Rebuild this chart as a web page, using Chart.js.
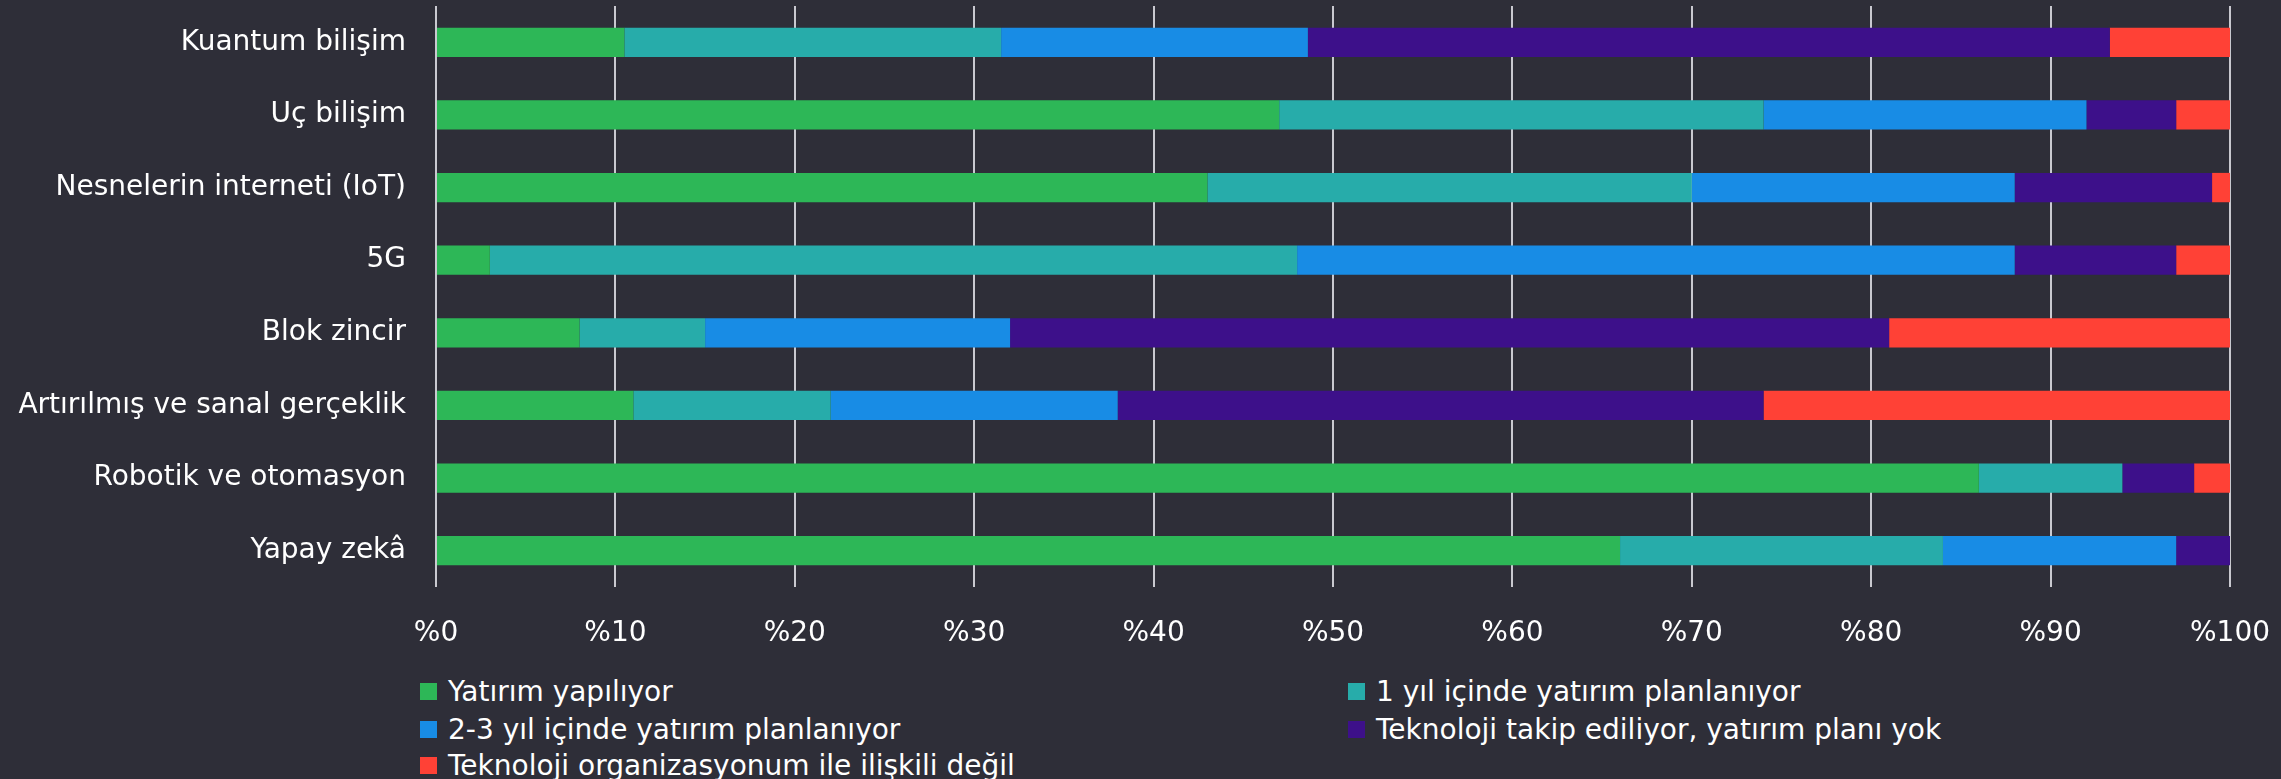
<!DOCTYPE html>
<html lang="tr">
<head>
<meta charset="utf-8">
<script src="https://cdn.jsdelivr.net/npm/chart.js@4.4.1/dist/chart.umd.min.js"></script>
<style>
  html, body { margin: 0; padding: 0; background: #2e2e38; }
  #wrap { position: relative; width: 2281px; height: 779px; overflow: hidden; background: #2e2e38; }
  #c { position: absolute; left: 0; top: 0; }
  .lg { position: absolute; font-family: "DejaVu Sans", sans-serif; font-size: 28px; color: #ffffff; white-space: nowrap; line-height: 37px; height: 37px; display: flex; align-items: center; }
  .lg i { display: inline-block; width: 17px; height: 17px; margin-right: 11px; }
</style>
</head>
<body>
<div id="wrap">
  <canvas id="c" width="2281" height="660"></canvas>
</div>
<script>
const categories = [
  "Kuantum bilişim",
  "Uç bilişim",
  "Nesnelerin interneti (IoT)",
  "5G",
  "Blok zincir",
  "Artırılmış ve sanal gerçeklik",
  "Robotik ve otomasyon",
  "Yapay zekâ"
];
const seriesNames = [
  "Yatırım yapılıyor",
  "1 yıl içinde yatırım planlanıyor",
  "2-3 yıl içinde yatırım planlanıyor",
  "Teknoloji takip ediliyor, yatırım planı yok",
  "Teknoloji organizasyonum ile ilişkili değil"
];
const investing      = [10.5, 47, 43,  3,  8, 11, 86, 66];
const planned1Year   = [21,   27, 27, 45,  7, 11,  8, 18];
const planned2to3    = [17.1, 18, 18, 40, 17, 16,  0, 13];
const followingOnly  = [44.7,  5, 11,  9, 49, 36,  4,  3];
const notRelevant    = [6.7,   3,  1,  3, 19, 26,  2,  0];
const tickValues = [0, 10, 20, 30, 40, 50, 60, 70, 80, 90, 100];
const colors = ["#2db757", "#27acaa", "#188ce5", "#3d108a", "#ff4136"];

const seriesValues = [investing, planned1Year, planned2to3, followingOnly, notRelevant];
const FONT = "DejaVu Sans";

const datasets = seriesValues.map((vals, i) => ({
  label: seriesNames[i],
  data: vals,
  backgroundColor: colors[i],
  borderWidth: 0,
  categoryPercentage: 0.404,
  barPercentage: 1.0
}));

function noPad(s) {
  s.paddingTop = 0; s.paddingBottom = 0; s.paddingLeft = 0; s.paddingRight = 0;
}

new Chart(document.getElementById("c"), {
  type: "bar",
  data: { labels: categories, datasets },
  options: {
    indexAxis: "y",
    responsive: false,
    animation: false,
    devicePixelRatio: 1,
    layout: { autoPadding: false, padding: { top: 6, right: 51, left: 0, bottom: 0 } },
    plugins: { legend: { display: false }, tooltip: { enabled: false } },
    scales: {
      x: {
        stacked: true,
        min: 0,
        max: 100,
        afterBuildTicks: (s) => { s.ticks = tickValues.map(v => ({ value: v })); },
        ticks: {
          color: "#ffffff",
          font: { family: FONT, size: 28 },
          padding: 30,
          maxRotation: 0,
          autoSkip: false,
          callback: (v) => "%" + v
        },
        grid: { color: "#c9c9d0", lineWidth: 2, drawTicks: false },
        border: { display: false },
        afterFit: (s) => { s.height = 660 - 587; noPad(s); }
      },
      y: {
        stacked: true,
        ticks: {
          color: "#ffffff",
          font: { family: FONT, size: 28 },
          padding: 30,
          autoSkip: false
        },
        grid: { display: false, drawTicks: false },
        border: { display: false },
        afterFit: (s) => { s.width = 436; noPad(s); }
      }
    }
  }
});

// HTML legend built from the series arrays (two columns, row-major order)
const wrap = document.getElementById("wrap");
const colX = [420, 1348];
const rowY = [673, 710.5, 747];
seriesNames.forEach((name, i) => {
  const d = document.createElement("div");
  d.className = "lg";
  d.style.left = colX[i % 2] + "px";
  d.style.top = rowY[Math.floor(i / 2)] + "px";
  const b = document.createElement("i");
  b.style.background = colors[i];
  d.appendChild(b);
  d.appendChild(document.createTextNode(name));
  wrap.appendChild(d);
});
</script>
</body>
</html>
